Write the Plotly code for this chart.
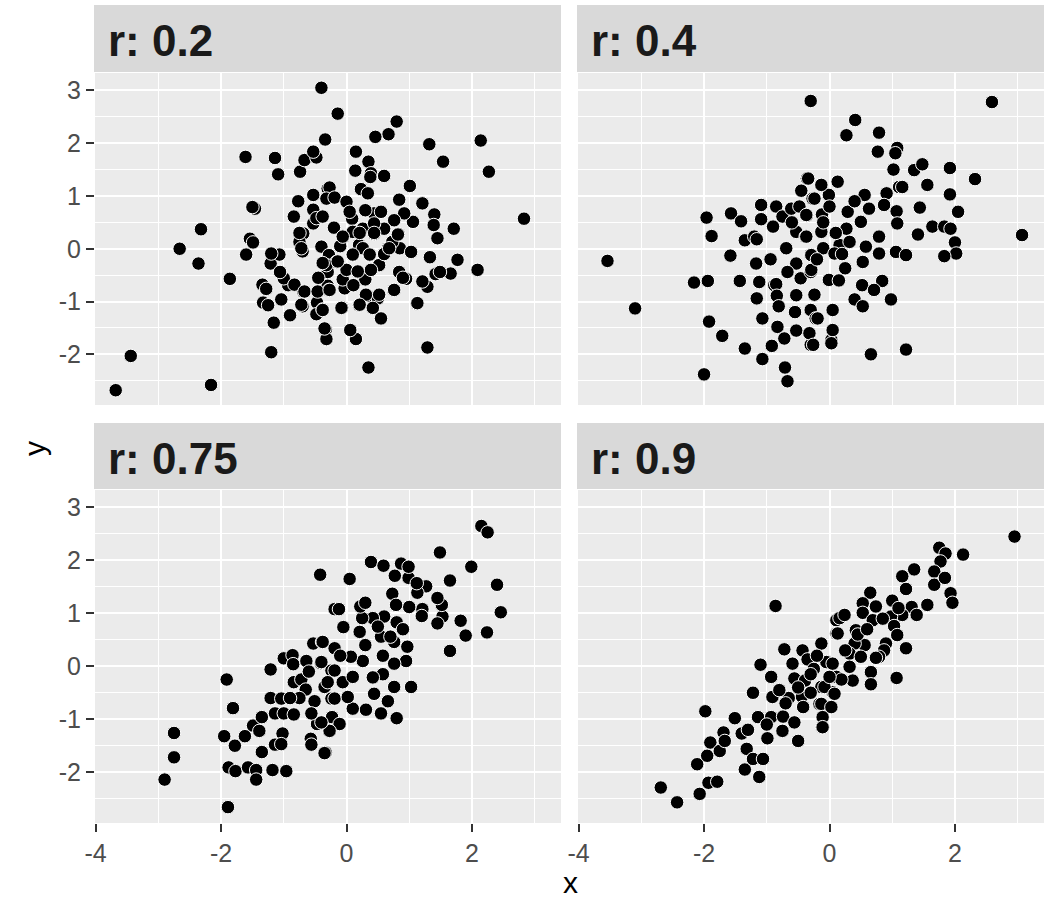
import plotly.graph_objects as go
from plotly.subplots import make_subplots

# panel labels
panels = ["r: 0.2", "r: 0.4", "r: 0.75", "r: 0.9"]

# r = 0.2
r02_x = [-0.40, -0.14, -0.34, -1.61, -1.14, -1.09, -0.74, -0.67, -0.48, -0.53, -1.46, -1.50, -2.32, -2.66,
         -2.36, -1.86, -1.54, -1.49, -1.60, -3.44, -3.68, -2.16, -1.20, -1.16, -0.90, -1.33, -1.25, -1.04,
         -1.34, -1.28, -0.93, -1.00, -1.21, -1.07, -1.20, -1.06, -0.69, -0.70, -0.47, -0.48, -0.38, -0.33,
         -0.32, -0.30, -0.30, -0.84, -0.77, -0.53, -0.30, -0.22, -0.53, -0.53, -0.48, -0.38, -0.69, -0.75,
         -0.70, -0.40, -0.35, -0.30, -0.28,
         0.80, 0.67, 0.46, 1.32, 2.14, 1.54, 2.27, 2.83, 0.15, 0.35, 0.14, 0.39, 0.60, 1.01, -0.27, -0.32,
         -0.19, 0.00, 0.23, 0.34, 0.84, 1.21, 1.40, 1.39, 1.45, 1.71, 1.06, 0.92, 0.76, 0.44, 0.55, 0.09,
         0.30, 0.44, 0.60, 0.83, 0.66, 0.85, -0.05, 0.10, 0.26, 0.20, 1.03, 1.33, 1.77, 1.66, 1.42, 1.49,
         2.09, 0.95, 0.84, 0.75, 1.29, 1.12, 1.29, 0.35, 0.15, 0.06, 0.55, 0.34, 0.50, 0.20, -0.07, -0.28,
         -0.03, -0.38, -0.32, -0.35, -0.16, 0.18, 0.10, 0.26, 0.37, 0.52, -0.32, 0.44, 0.73, -0.06, 0.30,
         0.39, 0.11, -0.10, 0.00, -0.20, 0.05, -0.45, 0.60,
         -0.75, -0.72, -0.06, 0.21, 0.44, 0.68, 0.82, 0.10, -0.14, -0.38, 0.37, 0.18, 0.90, 1.21,
         -0.83, -0.67, -0.46, -0.27, 0.31, 0.52, 0.76, -0.72, -0.08, 0.21, 0.42, 1.13, 0.38]
r02_y = [3.05, 2.56, 2.07, 1.74, 1.72, 1.41, 1.46, 1.68, 1.73, 1.84, 0.76, 0.79, 0.37, 0.00,
         -0.28, -0.57, 0.19, 0.12, -0.11, -2.03, -2.68, -2.58, -1.96, -1.40, -1.26, -1.02, -1.07, -0.96,
         -0.68, -0.76, -0.69, -0.56, -0.28, -0.11, -0.09, -0.44, -0.81, -1.09, -1.02, -1.24, -1.15, -1.53,
         -1.72, -0.78, -0.70, 0.61, 0.90, 1.02, 1.14, 0.97, 0.74, 0.48, 0.58, 0.61, 0.29, 0.13,
         -0.05, 0.04, -0.28, -0.44, -0.12,
         2.41, 2.17, 2.12, 1.98, 2.05, 1.65, 1.46, 0.57, 1.84, 1.65, 1.48, 1.43, 1.38, 1.19, 1.16, 0.95,
         0.97, 0.89, 1.13, 1.05, 0.93, 0.86, 0.65, 0.45, 0.20, 0.38, 0.51, 0.67, 0.54, 0.67, 0.70, 0.57,
         0.73, 0.28, 0.38, 0.28, 0.01, 0.01, 0.23, 0.32, 0.38, 0.07, -0.06, -0.16, -0.21, -0.47, -0.48, -0.44,
         -0.40, -0.57, -0.44, -0.78, -0.72, -1.04, -1.87, -2.25, -1.71, -1.54, -1.32, -0.89, -0.94, -1.07, -1.11, -0.78,
         -0.75, -1.16, -1.71, -1.51, -0.25, -0.44, -0.12, 0.01, -0.12, -0.31, -0.31, 0.48, 0.13, -0.58, -0.58,
         -0.40, -0.69, 0.05, -0.40, 0.40, 0.70, -0.55, -0.10,
         0.30, 0.01, 0.23, 0.30, 0.30, 0.01, 0.27, -0.11, -0.24, -0.27, -0.11, -0.43, -0.55, -0.62,
         -0.68, -0.81, -0.81, -0.78, -0.87, -0.87, -0.78, -1.06, -1.12, -1.06, -1.12, -1.03, 1.36]

# r = 0.4
r04_x = [-0.30, -0.36, -3.54, -3.10, -1.96, -1.88, -1.57, -1.41, -1.58, -2.16, -1.94, -1.43, -1.92, -1.71,
         -1.35, -2.00, -1.07, -0.92, -0.71, -0.67, -1.07, -0.83, -0.72, -0.53, -0.32, -0.30, -1.09, -0.85,
         -1.09, -0.90, -0.75, -0.61, -0.48, -1.35, -1.20, -1.16, -1.17, -0.94, -1.12, -0.88, -0.85, -1.16,
         -0.84, -0.81, -0.69, -0.53, -0.67, -0.46, -0.53, -0.53, -0.38, -0.30, -0.36, -0.27, -0.30, -0.30,
         -0.24, -0.22,
         2.59, 0.41, 0.27, 0.79, 0.77, 1.08, 1.05, 1.02, 1.35, 1.48, 1.92, 2.32, 1.56, 1.92, 2.05, 1.44,
         1.64, 1.83, 1.93, 1.41, 2.00, 2.02, 1.83, 3.07, 1.22, 0.66, 1.11, 1.16, 0.91, 0.87, 1.07, 1.08,
         0.79, 1.06, 1.22, 0.79, 0.56, 0.63, 0.50, 0.27, 0.29, 0.58, 0.53, 0.25, 0.16, -0.01, 0.13, -0.13,
         -0.34, -0.24, -0.12, -0.37, -0.37, -0.13, -0.29, -0.29, -0.01, -0.10, 0.52, 0.84, 0.71, 0.40, 0.53,
         0.98, 0.05, -0.19, -0.24, -0.32, 0.03, 0.05, -0.26, 0.03, 0.32, 0.08,
         -0.10, 0.10, -0.20, 0.20, 0.00, -0.60, 0.40, -0.45, 0.15, -0.55]
r04_y = [2.80, 1.33, -0.23, -1.13, 0.59, 0.24, 0.67, 0.52, -0.13, -0.64, -0.61, -0.61, -1.38, -1.65,
         -1.89, -2.38, -2.09, -1.84, -2.25, -2.51, -1.32, -1.48, -1.70, -1.55, -1.62, -1.82, 0.83, 0.80,
         0.56, 0.42, 0.61, 0.76, 0.80, 0.16, 0.23, 0.18, -0.28, -0.20, -0.63, -0.69, -0.67, -0.94,
         -0.89, -1.09, 0.01, -0.28, -0.44, -0.56, -0.88, 0.32, 0.23, -0.12, 0.63, 0.95, -0.44, -1.16,
         -0.88, -1.32,
         2.78, 2.44, 2.15, 2.20, 1.84, 1.91, 1.81, 1.50, 1.49, 1.60, 1.53, 1.32, 1.21, 1.03, 0.70, 0.78,
         0.42, 0.42, 0.38, 0.27, 0.12, -0.09, -0.14, 0.26, -1.91, -2.00, 1.17, 1.17, 1.05, 0.83, 0.71, 0.48,
         0.23, -0.06, -0.12, -0.09, 1.02, 0.76, 0.51, 0.38, 0.70, 0.04, -0.25, -0.37, 0.07, 1.02, 1.27, 1.21,
         1.33, 0.95, 0.65, 0.64, 0.23, 0.32, -0.12, -0.40, -0.59, 0.01, -0.69, -0.61, -0.78, -0.96, -1.09,
         -0.96, -1.16, -1.32, -0.87, -1.60, -1.73, -1.54, -1.82, -1.79, 0.13, -0.09,
         0.50, 0.30, -0.20, -0.10, 0.80, 0.50, 0.90, 1.10, -0.60, -1.20]

# r = 0.75
r075_x = [-0.42, -0.19, -1.91, -1.81, -2.75, -2.75, -2.90, -1.89, -1.95, -1.78, -1.88, -1.77, -1.57, -1.44,
          -1.44, -1.18, -0.96, -1.35, -1.62, -1.49, -1.39, -1.35, -1.14, -1.02, -1.04, -0.57, -0.56, -0.33,
          -0.27, -0.47, -1.21, -1.04, -1.14, -1.00, -0.84, -1.21, -1.00, -0.86, -0.85, -0.84, -0.72, -0.64,
          -0.65, -0.75, -0.51, -0.56, -0.53, -0.39, -0.41, -0.24, -0.35, -0.24, -0.23,
          2.15, 2.25, 1.49, 1.99, 1.65, 2.40, 2.46, 2.24, 1.90, 1.82, 1.65, 1.53, 1.45, 1.52, 1.45, 1.21,
          1.27, 1.13, 0.99, 0.87, 0.99, 1.12, 0.77, 0.39, 0.59, 0.05, 0.73, 1.00, 0.79, 0.80, 0.60, 0.42,
          0.25, 0.22, -0.12, -0.05, 0.21, 0.55, 0.76, 0.70, 0.97, 0.95, 0.76, 0.58, 0.58, 0.42, 0.76, 1.03,
          0.44, 0.66, 0.55, 0.80, 0.31, 0.10, 0.26, 0.07, -0.19, -0.19, -0.38, -0.40, -0.06, -0.19, 0.02,
          -0.11, -0.27, -0.35, -0.40,
          -0.10, 0.30, -0.30, 0.10, 0.50, 0.30, -0.60, -0.90, 0.90, 1.20]
r075_y = [1.73, 1.08, -0.25, -0.79, -1.26, -1.72, -2.14, -2.66, -1.32, -1.50, -1.91, -1.98, -1.91, -1.96,
          -2.14, -1.96, -1.98, -1.62, -1.32, -1.12, -1.22, -0.96, -1.48, -1.27, -1.47, -1.37, -1.48, -1.63,
          -1.22, -1.09, -0.60, -0.61, -0.89, -0.89, -0.91, -0.06, 0.15, 0.21, 0.04, -0.30, -0.25, 0.10,
          -0.44, -0.60, -0.66, -0.89, 0.43, 0.46, 0.06, -0.08, -0.39, -0.61, -0.96,
          2.65, 2.53, 2.15, 1.88, 1.62, 1.54, 1.02, 0.64, 0.58, 0.86, 0.29, 0.94, 0.81, 1.16, 1.29, 1.08,
          1.51, 1.39, 1.67, 1.94, 1.88, 1.57, 1.71, 1.97, 1.90, 1.65, 1.37, 1.12, 1.16, 0.83, 0.94, 0.91,
          0.91, 1.13, 1.08, 0.74, 0.65, 0.56, 0.46, 0.56, 0.37, 0.10, 0.05, 0.20, -0.15, -0.21, -0.39, -0.39,
          -0.52, -0.66, -0.89, -0.98, -0.82, -0.80, 0.10, 0.18, 0.34, -0.08, 0.46, 0.08, -0.30, -0.61, -0.58,
          -1.09, -1.22, -1.64, -1.06,
          0.20, 0.40, -0.30, -0.20, 0.75, 1.20, -0.10, -0.60, 0.70, 0.95]

# r = 0.9
r09_x = [-0.86, -1.98, -2.69, -2.43, -2.07, -1.93, -1.79, -2.11, -1.95, -1.90, -1.75, -1.69, -1.67, -1.51,
         -1.40, -1.32, -1.35, -1.22, -1.06, -1.12, -1.22, -1.10, -1.14, -0.99, -0.93, -0.91, -0.93, -0.74,
         -0.75, -0.72, -0.56, -0.50, -0.43, -0.59, -0.56, -0.39, -0.35, -0.44, -0.42, -0.13, -0.13, -0.16,
         -0.12, -0.03, 0.11, 0.11, 0.05, 0.11,
         2.95, 1.75, 1.85, 2.13, 1.77, 1.35, 1.16, 1.22, 1.67, 1.67, 1.84, 1.93, 1.96, 1.56, 1.31, 1.16,
         1.39, 0.65, 0.53, 0.74, 1.00, 0.53, 0.69, 0.98, 1.03, 1.08, 1.22, 0.90, 0.87, 0.56, 0.42, 0.40,
         0.16, 0.13, 0.24, -0.05, 0.32, 0.32, 0.50, 0.66, 0.66, 0.37, 0.19, 0.05, -0.08, 0.08, -0.13, 0.03,
         -0.11, -0.11, 1.07, 0.79, 0.74, -0.65, -0.25, -0.80, -0.30,
         -0.30, 0.00, 0.25, 0.45, -0.50, -0.70, 0.60, 0.85, 1.10, -1.00, -1.30, -0.20]
r09_y = [1.14, -0.85, -2.29, -2.57, -2.41, -2.20, -2.18, -1.85, -1.69, -1.44, -1.60, -1.25, -1.41, -0.98,
         -1.27, -1.56, -1.95, -1.75, -1.75, -2.09, -0.50, 0.03, -0.96, -1.36, -0.20, -0.58, -0.96, -0.95,
         -1.22, 0.32, -1.06, -1.41, 0.30, 0.05, -0.23, -0.27, 0.13, -0.57, -0.77, 0.43, -0.39, -0.71,
         -1.15, 0.08, 0.87, 0.62, -0.49, -0.20,
         2.45, 2.24, 2.13, 2.11, 1.98, 1.83, 1.70, 1.46, 1.79, 1.54, 1.67, 1.38, 1.20, 1.16, 1.12, 0.97,
         0.97, 1.39, 1.19, 1.13, 1.24, 1.01, 0.87, 0.94, 0.76, 0.59, 0.34, 0.43, 0.30, 0.40, 0.68, 0.43,
         0.91, 0.62, 0.97, 0.08, 0.24, -0.01, 0.18, -0.11, -0.34, -0.27, -0.25, 0.05, -0.39, -0.52, -0.71, -0.77,
         -0.96, -1.15, -0.22, 0.18, 0.16, -0.60, -0.05, -0.45, -0.50,
         -0.15, -0.20, 0.30, 0.60, -0.40, -0.70, 0.70, 0.90, 1.10, -1.10, -1.20, 0.20]

x_ticks = [-4, -2, 0, 2]
x_tick_labels = ["-4", "-2", "0", "2"]
y_ticks = [-2, -1, 0, 1, 2, 3]
y_tick_labels = ["-2", "-1", "0", "1", "2", "3"]
x_range = [-4.01, 3.42]
y_range = [-2.96, 3.33]

W, H = 1050, 898
panel_cols = [(95, 561), (578, 1044)]      # pixel x spans
panel_rows = [(73, 405), (490, 823)]       # pixel y spans (top, bottom)
strip_rows = [(5, 72), (423, 489)]

fig = make_subplots(rows=2, cols=2)

series = [(r02_x, r02_y), (r04_x, r04_y), (r075_x, r075_y), (r09_x, r09_y)]
for i, (xs, ys) in enumerate(series):
    row, col = i // 2 + 1, i % 2 + 1
    fig.add_trace(go.Scatter(x=xs, y=ys, mode="markers",
                             marker=dict(size=13.5, color="black",
                                         line=dict(color="white", width=1)),
                             showlegend=False, hoverinfo="skip"),
                  row=row, col=col)

tick_font = dict(family="Liberation Sans", size=25, color="#4D4D4D")

for i in range(4):
    r, c = i // 2, i % 2
    x0, x1 = panel_cols[c]
    y0, y1 = panel_rows[r]
    ax = "xaxis" if i == 0 else "xaxis%d" % (i + 1)
    ay = "yaxis" if i == 0 else "yaxis%d" % (i + 1)
    fig.layout[ax].update(
        domain=[x0 / W, x1 / W], range=x_range, tickvals=x_ticks, ticktext=x_tick_labels,
        automargin=False, showgrid=True, gridcolor="white", gridwidth=1.8, zeroline=False,
        minor=dict(tickvals=[-3, -1, 1, 3], showgrid=True, gridcolor="white", gridwidth=0.9),
        showticklabels=(r == 1), ticks="outside" if r == 1 else "",
        ticklen=8, tickwidth=1.6, tickcolor="#333333", tickfont=tick_font,
        showline=False, fixedrange=True)
    fig.layout[ay].update(
        domain=[1 - y1 / H, 1 - y0 / H], range=y_range, tickvals=y_ticks, ticktext=y_tick_labels,
        automargin=False, showgrid=True, gridcolor="white", gridwidth=1.8, zeroline=False,
        minor=dict(tickvals=[-2.5, -1.5, -0.5, 0.5, 1.5, 2.5], showgrid=True,
                   gridcolor="white", gridwidth=0.9),
        showticklabels=(c == 0), ticks="outside" if c == 0 else "",
        ticklen=8, tickwidth=1.6, tickcolor="#333333", tickfont=tick_font,
        showline=False, fixedrange=True)

    # facet strip
    s0, s1 = strip_rows[r]
    fig.add_shape(type="rect", xref="paper", yref="paper",
                  x0=(x0 - 1) / W, x1=x1 / W, y0=1 - s1 / H, y1=1 - s0 / H,
                  fillcolor="#D9D9D9", line=dict(width=0), layer="below")
    fig.add_annotation(text="<b>%s</b>" % panels[i], xref="paper", yref="paper",
                       x=(x0 + 11) / W, y=1 - ((s0 + s1) / 2 + 2) / H,
                       xanchor="left", yanchor="middle", showarrow=False,
                       font=dict(family="Liberation Sans", size=44, color="#1A1A1A"))

# axis titles
fig.add_annotation(text="x", xref="paper", yref="paper", x=570 / W, y=1 - 882 / H,
                   xanchor="center", yanchor="middle", showarrow=False,
                   font=dict(family="Liberation Sans", size=30, color="black"))
fig.add_annotation(text="y", xref="paper", yref="paper", x=34 / W, y=1 - 449 / H,
                   xanchor="center", yanchor="middle", showarrow=False, textangle=-90,
                   font=dict(family="Liberation Sans", size=30, color="black"))

fig.update_layout(width=W, height=H, margin=dict(l=0, r=0, t=0, b=0),
                  plot_bgcolor="#EBEBEB", paper_bgcolor="white")

# drop the default page margin so the figure sits at the window's corner
fig.write_html("out.html", config={"displayModeBar": False},
               post_script="document.body.style.margin='0';")
